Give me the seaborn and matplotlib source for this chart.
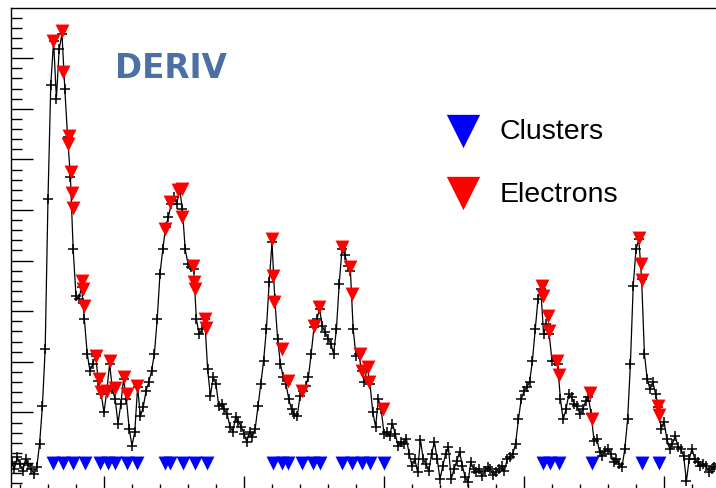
import numpy as np
import pandas as pd
import matplotlib
matplotlib.use("Agg")
import matplotlib.pyplot as plt
import seaborn as sns
from matplotlib.ticker import MultipleLocator

# ---------------- data ----------------
first_sample = 17
waveform = [
    1, -6, 6, -1, -8, 4, -2, -6, -11, -4, 19, 56, 113, 261, 374, 417, 360, 409, 424,
    370, 322, 283, 211, 165, 162, 174, 142, 108, 91, 98, 106, 81, 68, 50,
    71, 98, 73, 63, 39, 58, 83, 63, 34, 17, 31, 75, 46, 55, 71, 80, 91, 108, 142, 187,
    211, 233, 243, 256, 263, 256, 271, 251, 211, 197, 194, 192, 142, 127, 132, 142, 93, 66, 85, 78,
    56, 58, 53, 48, 36, 31, 45, 41, 36, 29,
    21, 31, 26, 34, 56, 78, 101, 132, 179, 218, 162, 123, 98, 85, 78, 63, 53, 48, 46, 66,
    71, 76, 85, 108, 134, 142, 152, 135, 129, 123, 118, 108, 132, 177, 211, 206, 195, 190, 132, 106,
    108, 91, 80, 95, 78, 50, 36, 63, 53, 29,
    31, 27, 39, 29, 17, 21, 19, 24, 9, -3, 4, -9, 23, 4, -1, -8, 9, 21, 4, -16,
    -3, 9, 16, -16, -6, 2, 11, -3, -14, -19, 1, -6, -9, -6, -13, -8, -4, -6, -12, -9,
    -6, -3, -8, 4, 6, 9, 19, 43, 63, 71,
    75, 80, 101, 132, 162, 172, 127, 137, 127, 101, 101, 98, 63, 43, 53, 68, 65, 58, 56, 48,
    53, 61, 65, 48, 22, 24, 11, 7, 12, 14, 9, 1, 4, -1, -4, 14, 43, 98, 175, 211,
    221, 182, 108, 83, 73, 80, 68, 55, 34, 41,
    24, 14, 19, 27, 16, 14, 7, -18, 4, 14, 4, 1, -3, -1, -3, -9, -6, -4, -1,
]

electron_t = [31.8, 35.0, 35.4, 37.1, 37.5, 38.2, 38.6, 38.9, 42.1, 42.5, 42.9,
              47.1, 48.2, 48.9, 51.1, 52.1, 53.9, 57.1, 58.2, 61.8,
              71.8, 73.6, 76.4, 77.9, 77.9, 81.8, 82.1, 82.5, 86.1, 86.4,
              110.0, 110.4, 110.7, 113.6, 115.7, 120.7, 125.0, 126.8,
              135.0, 137.9, 138.6, 141.4, 142.1, 144.3, 144.6, 149.6,
              206.4, 206.8, 208.6, 208.9, 211.8, 212.5, 223.6, 224.3,
              241.1, 241.8, 242.1, 247.9, 248.2]
electron_amp = [417, 427, 386, 315, 323, 288, 267, 252, 180, 172, 155,
                106, 83, 70, 71, 101, 74, 85, 68, 76,
                231, 258, 270, 271, 243, 195, 179, 172, 142, 133,
                221, 185, 159, 113, 81, 71, 135, 154,
                213, 194, 167, 108, 91, 95, 80, 53,
                175, 165, 145, 130, 101, 87, 69, 43,
                222, 197, 181, 56, 47]

cluster_t = [31.8, 35.4, 38.9, 43.2, 48.6, 51.4, 53.9, 58.2, 61.8,
             71.8, 73.6, 78.2, 82.5, 86.8,
             110.4, 113.6, 115.7, 120.7, 124.6, 127.1,
             135.0, 138.6, 142.1, 145.0, 150.0,
             206.8, 209.3, 212.5, 224.3, 242.1, 248.2]
cluster_level = 0.0
cluster_amp = [cluster_level] * len(cluster_t)

label_text = "DERIV"
legend_labels = ["Clusters", "Electrons"]

# ---------------- plot ----------------
sns.set_style("ticks")
plt.rcParams['font.family'] = ['Liberation Sans', 'DejaVu Sans']

W, H = 716, 489
fig = plt.figure(figsize=(W / 100, H / 100), dpi=100)
ax = fig.add_axes([11 / W, 1 - 492 / H, 711 / W, 483 / H])

df = pd.DataFrame({"t": np.arange(first_sample, first_sample + len(waveform)),
                   "amp": waveform})
sns.lineplot(data=df, x="t", y="amp", ax=ax, color="black", linewidth=0.9,
             marker="+", markersize=7.5, markeredgewidth=1.1,
             markeredgecolor="black", estimator=None, sort=False, zorder=2)

sns.scatterplot(x=cluster_t, y=cluster_amp, ax=ax, marker="v", s=100,
                color="#0000ff", linewidth=0, label=legend_labels[0], zorder=3)
sns.scatterplot(x=electron_t, y=electron_amp, ax=ax, marker="v", s=100,
                color="#ff0000", linewidth=0, label=legend_labels[1], zorder=3)

ax.set_xlim(16.79, 270.71)
ax.set_ylim(-27.67, 449.6)
ax.xaxis.set_major_locator(MultipleLocator(50))
ax.xaxis.set_minor_locator(MultipleLocator(10))
ax.yaxis.set_major_locator(MultipleLocator(50))
ax.yaxis.set_minor_locator(MultipleLocator(10))
ax.tick_params(axis="both", which="both", direction="in", labelbottom=False,
               labelleft=False, bottom=True, left=True, top=False, right=False,
               color="black")
ax.tick_params(axis="y", which="major", length=15.8, width=1.0)
ax.tick_params(axis="y", which="minor", length=7.9, width=1.0)
ax.tick_params(axis="x", which="major", length=10.5, width=1.0)
ax.tick_params(axis="x", which="minor", length=5.3, width=1.0)
ax.set_xlabel("")
ax.set_ylabel("")
for sp in ax.spines.values():
    sp.set_visible(True)
    sp.set_linewidth(1.0)
    sp.set_color("black")

ax.legend(loc="upper left", bbox_to_anchor=(446 / W, 1 - 119 / H),
          bbox_transform=fig.transFigure, frameon=False, fontsize=20.5,
          markerscale=2.4, handlelength=1.2, handletextpad=0.67,
          labelspacing=1.29, borderpad=0, borderaxespad=0, labelcolor="black")

fig.text(115 / W, 1 - 78 / H, label_text, fontsize=23.5, fontweight="bold",
         color="#4b70a5", family="DejaVu Sans", ha="left", va="baseline")

fig.savefig("out.png", dpi=100)
